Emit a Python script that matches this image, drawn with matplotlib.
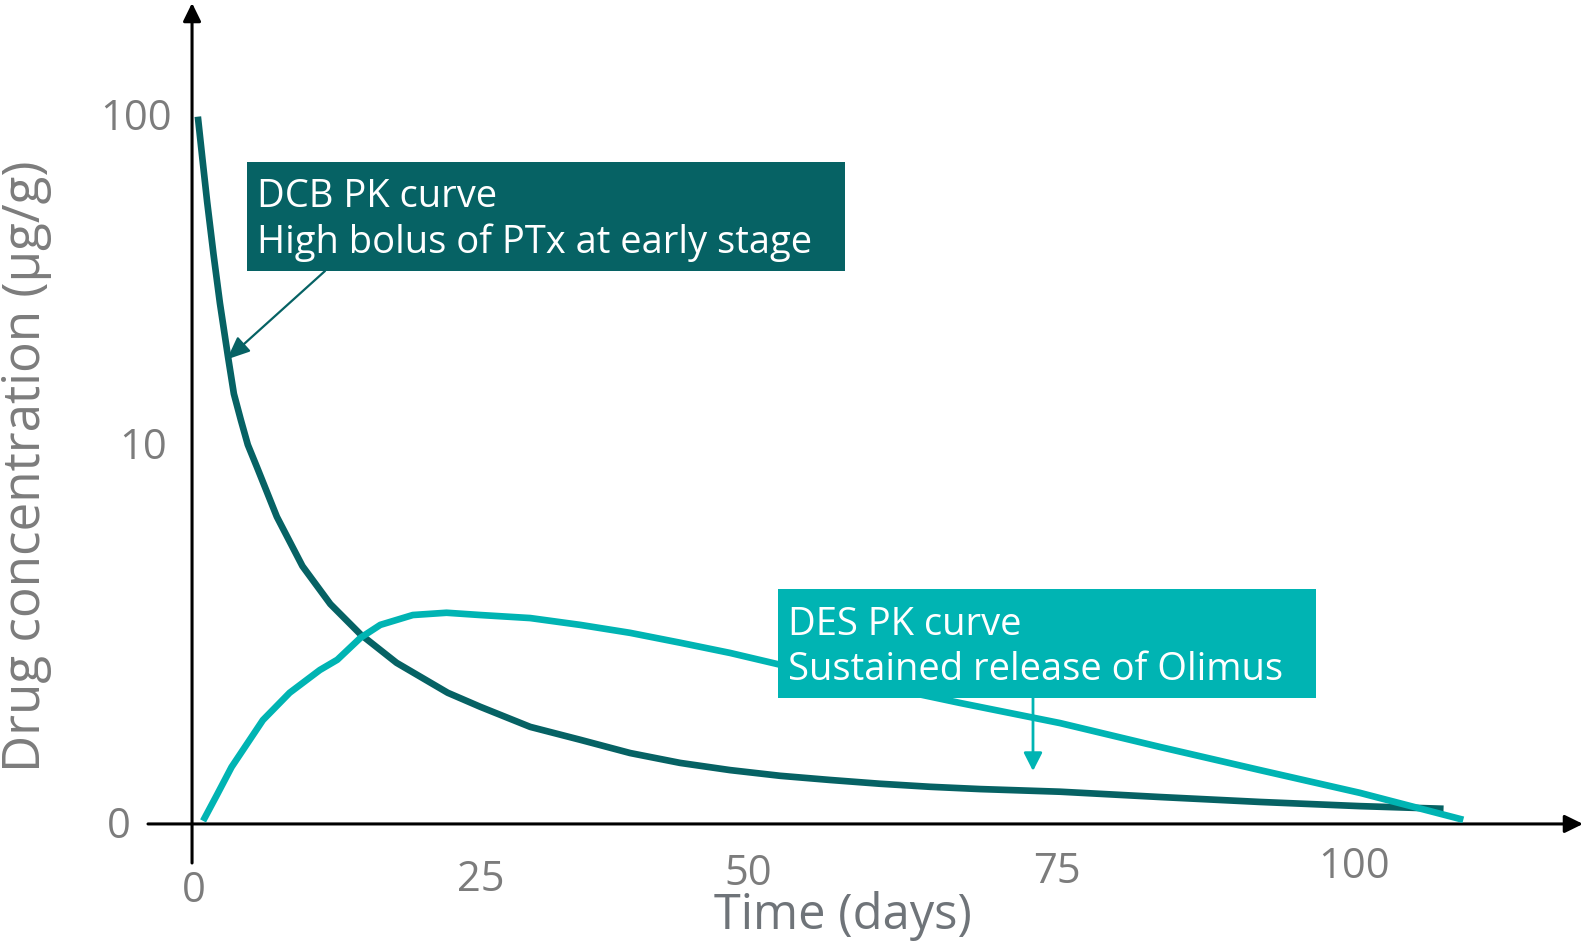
import matplotlib
matplotlib.use("Agg")
import matplotlib.pyplot as plt
from matplotlib.patches import Rectangle, FancyArrowPatch
import matplotlib.transforms as mtransforms

# ---- data -------------------------------------------------------------
dcb_days = [0.5, 0.9, 1.3, 1.85, 2.4, 3.1, 3.6, 4.2, 4.8, 5.6, 7.3, 9.5,
            11.9, 14.5, 17.6, 22.0, 24.8, 29.1, 33.4, 37.7, 42.0, 46.3,
            50.6, 54.9, 59.2, 63.5, 67.8, 74.7, 83.3, 91.9, 100.5, 107.7]
dcb_conc = [100, 74, 55, 38, 27, 18.5, 14.3, 11.9, 10.0, 9.4, 8.1, 6.8,
            5.8, 5.0, 4.25, 3.46, 3.09, 2.56, 2.22, 1.87, 1.61, 1.42,
            1.27, 1.16, 1.06, 0.98, 0.92, 0.85, 0.71, 0.58, 0.47, 0.40]

des_days = [0.95, 2.15, 3.4, 6.1, 8.4, 11.0, 12.5, 14.5, 16.2, 19.0, 21.9,
            24.8, 29.1, 33.4, 37.7, 42.0, 46.3, 50.6, 66.1, 74.7, 83.3, 91.9,
            100.5, 109.4]
des_conc = [0.08, 0.77, 1.50, 2.74, 3.46, 4.06, 4.33, 4.91, 5.25, 5.51, 5.57,
            5.51, 5.43, 5.25, 5.04, 4.78, 4.51, 4.20, 3.19, 2.66, 2.03, 1.42,
            0.82, 0.11]

x_ticks = [0, 25, 50, 75, 100]
y_ticks = [0, 10, 100]

dcb_lines = ["DCB PK curve", "High bolus of PTx at early stage"]
des_lines = ["DES PK curve", "Sustained release of Olimus"]
x_title = "Time (days)"
y_title = "Drug concentration (µg/g)"

# ---- style ------------------------------------------------------------
DARK = "#066264"
TEAL = "#00b4b3"
GREY = "#7c7c7c"
TITLE_GREY = "#6f7479"
FONT = ["Open Sans", "DejaVu Sans"]

W, H = 1585, 943
plt.rcParams["font.family"] = FONT

fig = plt.figure(figsize=(W / 100, H / 100), dpi=100)
renderer = fig.canvas.get_renderer()


def fx(px):
    return px / W


def fy(py):
    return 1 - py / H


def fit(text, target_px, vertical=False):
    """Scale a text's font size so its extent spans target_px pixels."""
    bb = text.get_window_extent(renderer)
    span = bb.height if vertical else bb.width
    text.set_fontsize(text.get_fontsize() * target_px / span)
    return text.get_fontsize()


ax = fig.add_axes([fx(148), fy(863), fx(1583) - fx(148), fy(3) - fy(863)])
ax.set_yscale("symlog", linthresh=10, linscale=1.04)
ax.set_xlim(-3.79, 119.7)
ax.set_ylim(-1.03, 222)
ax.axis("off")

# curves
ax.plot(dcb_days, dcb_conc, color=DARK, lw=4.8, solid_capstyle="butt",
        solid_joinstyle="round", zorder=3)
ax.plot(des_days, des_conc, color=TEAL, lw=4.8, solid_capstyle="butt",
        solid_joinstyle="round", zorder=4)

# axes with arrow heads
hx = mtransforms.blended_transform_factory(ax.transAxes, ax.transData)
vx = mtransforms.blended_transform_factory(ax.transData, ax.transAxes)
arrow_kw = dict(arrowstyle="-|>,head_length=0.55,head_width=0.27",
                color="black", lw=2.2, mutation_scale=20,
                shrinkA=0, shrinkB=0)
ax.annotate("", xy=(1, 0), xytext=(0, 0), xycoords=hx, textcoords=hx,
            arrowprops=arrow_kw, zorder=2)
ax.annotate("", xy=(0, 1), xytext=(0, 0), xycoords=vx, textcoords=vx,
            arrowprops=arrow_kw, zorder=2)

# tick labels (hand offset, in pixels)
x_off = [(2, -67), (-2, -56), (-25, -50), (-7, -48), (0, -43)]
for v, (dx, dy) in zip(x_ticks, x_off):
    ax.annotate(str(v), xy=(v, 0), xytext=(dx, dy),
                textcoords="offset pixels", ha="center", va="center",
                fontsize=30, color=GREY)
y_off = [(-73, -3), (-49, -3), (-56, -2)]
for v, (dx, dy) in zip(y_ticks, y_off):
    ax.annotate(str(v), xy=(0, v), xytext=(dx, dy),
                textcoords="offset pixels", ha="center", va="center",
                fontsize=30, color=GREY)

# axis titles
xt = fig.text(fx(843), fy(916), x_title, ha="center", va="center",
              fontsize=30, color=TITLE_GREY)
fit(xt, 258)
yt = fig.text(fx(27), fy(466), y_title, ha="center", va="center",
              rotation=90, fontsize=30, color=GREY)
fit(yt, 612, vertical=True)

# callout boxes
for (x0, y0, x1, y1), col in [((247, 162, 845, 271), DARK),
                              ((778, 589, 1316, 698), TEAL)]:
    fig.add_artist(Rectangle((fx(x0), fy(y1)), fx(x1) - fx(x0),
                             fy(y0) - fy(y1), transform=fig.transFigure,
                             facecolor=col, edgecolor="none", zorder=5))

probe = fig.text(0, 0, dcb_lines[1], fontsize=24)
box_size = fit(probe, 555)
probe.remove()

for lines, x0, baselines in [(dcb_lines, 257, (207, 253)),
                             (des_lines, 788, (635, 680))]:
    for s, yb in zip(lines, baselines):
        fig.text(fx(x0), fy(yb), s, ha="left", va="baseline",
                 fontsize=box_size, color="white", zorder=6)

# callout pointers
ax.annotate("", xy=(3.0, 18.2), xycoords="data",
            xytext=(fx(325), fy(271)), textcoords="figure fraction",
            arrowprops=dict(arrowstyle="-|>,head_length=0.7,head_width=0.3",
                            color=DARK, lw=1.6, mutation_scale=20,
                            shrinkA=0, shrinkB=0), zorder=6)
fig.add_artist(FancyArrowPatch(
    (fx(1033), fy(698)), (fx(1033), fy(771)), transform=fig.transFigure,
    arrowstyle="-|>,head_length=0.55,head_width=0.28", mutation_scale=20,
    color=TEAL, lw=2.0, shrinkA=0, shrinkB=0, zorder=6))

fig.savefig("out.png", dpi=100)
